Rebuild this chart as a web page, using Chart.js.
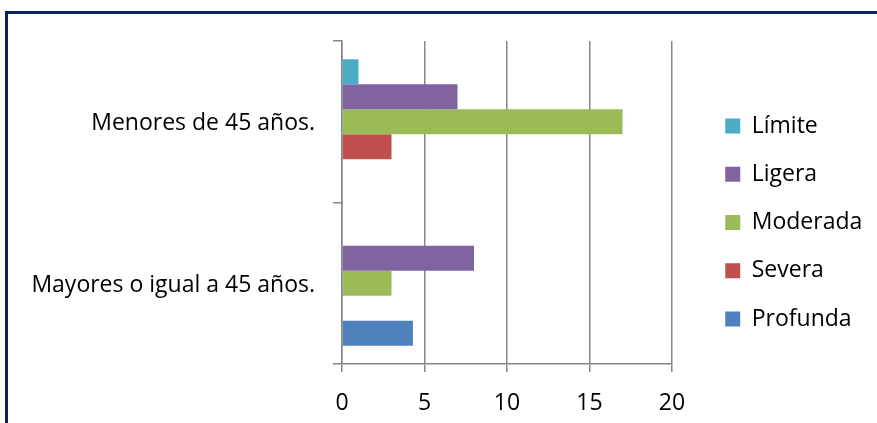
<!DOCTYPE html>
<html>
<head>
<meta charset="utf-8">
<script src="https://cdn.jsdelivr.net/npm/chart.js@4.4.1/dist/chart.umd.min.js"></script>
<style>
  html, body { margin: 0; padding: 0; background: #ffffff; }
  body { width: 877px; height: 423px; overflow: hidden; position: relative; }
  #frame {
    position: absolute; left: 5px; top: 11px; width: 920px; height: 460px;
    border-top: 3px solid #0b2160; border-left: 3px solid #0b2160;
    box-sizing: border-box;
  }
  #wrap { position: absolute; left: 0; top: 0; width: 877px; height: 423px; }
</style>
</head>
<body>
<div id="frame"></div>
<div id="wrap"><canvas id="chart" width="877" height="423"></canvas></div>
<script>
// Categories (top to bottom) and one array per severity level
const categories = ['Menores de 45 años.', 'Mayores o igual a 45 años.'];
const seriesNames = ['Límite', 'Ligera', 'Moderada', 'Severa', 'Profunda'];
const limite   = [1, 0];
const ligera   = [7, 8];
const moderada = [17, 3];
const severa   = [3, 0];
const profunda = [0, 4.3];
const xTickValues = [0, 5, 10, 15, 20];

const seriesValues = [limite, ligera, moderada, severa, profunda];
const seriesColors = ['#4BACC6', '#8064A2', '#9BBB59', '#C0504D', '#4F81BD'];

const FONT = { family: 'Open Sans', size: 23 };
const GRID = '#868686';

// Fixed legend column: width reserved on the right, offset of the swatches
const LEGEND_WIDTH = 205;
const LEGEND_SHIFT = 28;
const LEGEND_FIRST_CENTER = 126;

const legendPlacement = {
  id: 'legendPlacement',
  beforeInit(chart) {
    const legend = chart.legend;
    if (!legend) return;
    const fit = legend.fit;
    legend.fit = function () {
      fit.call(this);
      this.width = LEGEND_WIDTH;
    };
  },
  afterLayout(chart) {
    const legend = chart.legend;
    const pad = legend.options.labels.padding;
    const fs = legend.options.labels.font.size || FONT.size;
    legend.left += LEGEND_SHIFT;
    legend.right += LEGEND_SHIFT;
    legend.top = LEGEND_FIRST_CENTER - fs / 2 - pad;
    legend.bottom = chart.height;
  }
};

new Chart(document.getElementById('chart'), {
  type: 'bar',
  data: {
    labels: categories,
    datasets: seriesNames.map((name, i) => ({
      label: name,
      data: seriesValues[i],
      backgroundColor: seriesColors[i],
      borderWidth: 0,
      categoryPercentage: 0.774,
      barPercentage: 1.0
    }))
  },
  options: {
    indexAxis: 'y',
    responsive: false,
    animation: false,
    devicePixelRatio: 1,
    layout: { padding: { top: 41, right: 0, bottom: 0, left: 0 } },
    scales: {
      x: {
        type: 'linear',
        position: 'bottom',
        min: 0,
        max: 20,
        afterBuildTicks(scale) { scale.ticks = xTickValues.map(v => ({ value: v })); },
        afterFit(scale) { scale.height = 59; },
        grid: { color: GRID, lineWidth: 1.5, drawTicks: true, tickLength: 8 },
        border: { display: true, color: GRID, width: 1.5 },
        ticks: { font: FONT, color: '#000000', padding: 18, maxRotation: 0 }
      },
      y: {
        type: 'category',
        position: 'left',
        offset: true,
        afterFit(scale) { scale.width = 342; },
        grid: { offset: true, drawOnChartArea: false, drawTicks: true, tickLength: 9, color: GRID, lineWidth: 1.5 },
        border: { display: true, color: GRID, width: 1.5 },
        ticks: { font: FONT, color: '#000000', padding: 18, labelOffset: 2 }
      }
    },
    plugins: {
      legend: {
        position: 'right',
        align: 'start',
        labels: {
          font: FONT,
          color: '#000000',
          boxWidth: 15,
          boxHeight: 15,
          padding: 25.25
        }
      },
      tooltip: { enabled: false },
      title: { display: false }
    }
  },
  plugins: [legendPlacement]
});
</script>
</body>
</html>
